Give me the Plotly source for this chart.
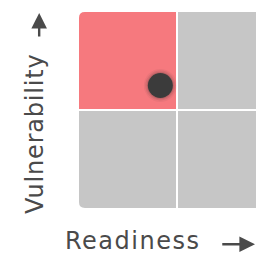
import plotly.graph_objects as go

# Data
readiness = [0.83]
vulnerability = [1.25]
quad_colors = ["#F6797E", "#C6C6C6", "#C6C6C6", "#C6C6C6"]
quad_x = [0, 1, 0, 1]
quad_y = [1, 1, 0, 0]
x_label = "Readiness"
y_label = "Vulnerability"

GAP = 0.0102
R = 0.06


def rrect(x0, y0, x1, y1, rtl, rtr, rbr, rbl):
    p = f"M {x0+rtl},{y1} L {x1-rtr},{y1} "
    p += f"Q {x1},{y1} {x1},{y1-rtr} " if rtr else ""
    p += f"L {x1},{y0+rbr} "
    p += f"Q {x1},{y0} {x1-rbr},{y0} " if rbr else ""
    p += f"L {x0+rbl},{y0} "
    p += f"Q {x0},{y0} {x0},{y0+rbl} " if rbl else ""
    p += f"L {x0},{y1-rtl} "
    p += f"Q {x0},{y1} {x0+rtl},{y1} " if rtl else ""
    return p + "Z"


shapes = []
for qx, qy, c in zip(quad_x, quad_y, quad_colors):
    x0 = qx + (GAP if qx == 1 else 0)
    x1 = qx + 1 - (GAP if qx == 0 else 0)
    y0 = qy + (GAP if qy == 1 else 0)
    y1 = qy + 1 - (GAP if qy == 0 else 0)
    rtl = R if (qx == 0 and qy == 1) else 0
    rbl = R if (qx == 0 and qy == 0) else 0
    rtr = R if (qx == 1 and qy == 1) else 0
    rbr = R if (qx == 1 and qy == 0) else 0
    shapes.append(dict(type="path", xref="x", yref="y",
                       path=rrect(x0, y0, x1, y1, rtl, rtr, rbr, rbl),
                       fillcolor=c, line=dict(width=0), layer="below"))

fig = go.Figure()
# soft shadow halo
for s, op in [(33, 0.06), (30, 0.10), (27, 0.16)]:
    fig.add_trace(go.Scatter(x=readiness, y=vulnerability, mode="markers",
                             marker=dict(size=s, color="#333333", opacity=op,
                                         line=dict(width=0)),
                             hoverinfo="skip", showlegend=False))
fig.add_trace(go.Scatter(x=readiness, y=vulnerability, mode="markers",
                         marker=dict(size=25, color="#3B3B3B", line=dict(width=0)),
                         showlegend=False))

font = dict(family="DejaVu Sans", size=24, color="#4A4A4A")
annotations = [
    dict(text=f'<span style="letter-spacing:1.5px">{x_label}</span>',
         xref="paper", yref="paper", x=0.305, y=-0.166,
         xanchor="center", yanchor="middle",
         showarrow=False, font=font),
    dict(text=f'<span style="letter-spacing:0.8px">{y_label}</span>',
         xref="paper", yref="paper", x=-0.248, y=0.378, textangle=-90,
         xanchor="center", yanchor="middle", showarrow=False, font=font),
    # x arrow
    dict(text="", xref="paper", yref="paper", x=1.01, y=-0.185,
         ax=-37, ay=0, showarrow=True, arrowhead=2, arrowsize=1.3,
         arrowwidth=2.4, arrowcolor="#4A4A4A"),
    # y arrow
    dict(text="", xref="paper", yref="paper", x=-0.225, y=0.995,
         ax=0, ay=25, showarrow=True, arrowhead=2, arrowsize=1.3,
         arrowwidth=2.4, arrowcolor="#4A4A4A"),
]

fig.update_layout(
    width=256, height=254,
    margin=dict(l=79, r=0, t=12, b=46),
    paper_bgcolor="white", plot_bgcolor="white",
    shapes=shapes, annotations=annotations,
    xaxis=dict(range=[0, 177 / 98], visible=False, fixedrange=True),
    yaxis=dict(range=[0, 2], visible=False, fixedrange=True),
    showlegend=False,
)
fig.write_html("out.html", config={"displayModeBar": False})

with open("out.html", encoding="utf-8") as f:
    html = f.read()
html = html.replace("<head>", "<head><style>html,body{margin:0;padding:0;overflow:hidden}</style>", 1)
with open("out.html", "w", encoding="utf-8") as f:
    f.write(html)
